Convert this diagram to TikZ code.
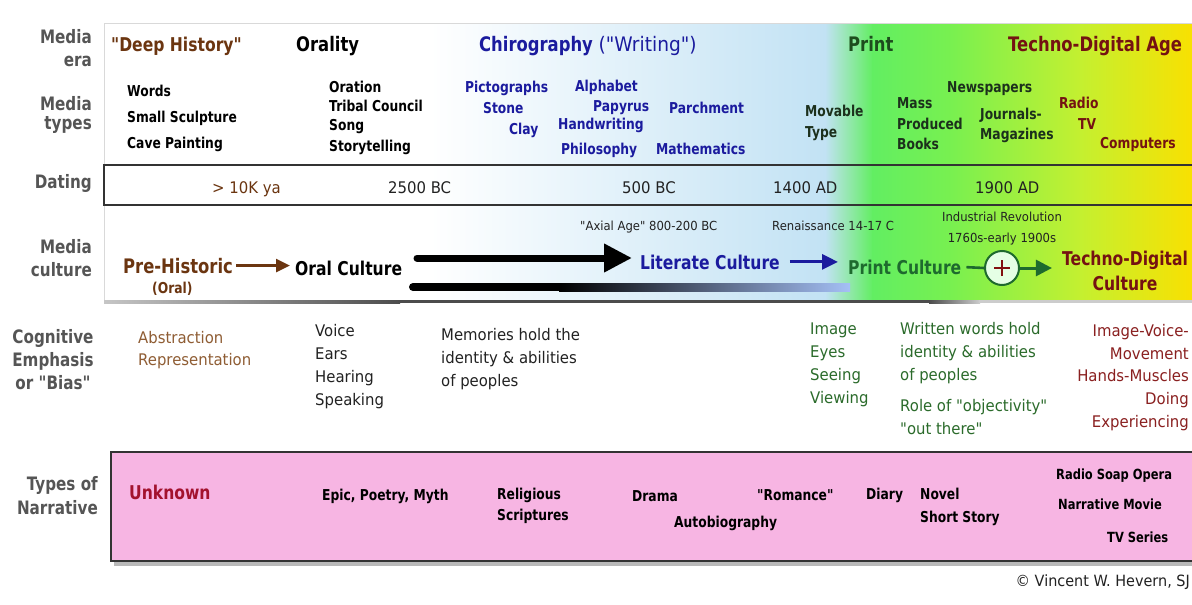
\documentclass[tikz,border=0pt]{standalone}
\usepackage{fontspec}
\setmainfont{DejaVu Sans}[FakeStretch=0.93, Ligatures=TeXOff]
\newfontfamily\cond{DejaVu Sans}[FakeStretch=0.82, Ligatures=TeXOff]
\usetikzlibrary{arrows.meta}

\newcommand\fsz[1]{\fontsize{#1}{#1}\selectfont}

\definecolor{labgray}{HTML}{555555}
\definecolor{brownD}{HTML}{6B3510}
\definecolor{brownL}{HTML}{8F5D34}
\definecolor{blueC}{HTML}{1B1B9E}
\definecolor{greenD}{HTML}{1D4D1D}
\definecolor{greenT}{HTML}{1C301C}
\definecolor{greenC}{HTML}{2B6B2B}
\definecolor{greenA}{HTML}{1E6A2E}
\definecolor{redD}{HTML}{741212}
\definecolor{redU}{HTML}{A3122E}
\definecolor{redC}{HTML}{8A2020}
\definecolor{txtdark}{HTML}{222222}
\definecolor{pinkC}{HTML}{F7B5E3}
\definecolor{lblue}{HTML}{C2E2F4}
\definecolor{pgreen}{HTML}{62EE62}
\definecolor{mgreen}{HTML}{78F050}
\definecolor{ygreen}{HTML}{C4F030}
\definecolor{pyellow}{HTML}{FAE000}
\definecolor{boxdark}{HTML}{333333}

\tikzset{
  lab/.style={font=\cond\bfseries\fsz{18.5}, text=labgray, anchor=base east, inner sep=0},
  era/.style={font=\cond\bfseries\fsz{20}, anchor=base west, inner sep=0},
  mtype/.style={font=\cond\bfseries\fsz{15}, anchor=base west, inner sep=0},
  datetxt/.style={font=\fsz{16}, text=txtdark, anchor=base west, inner sep=0},
  cult/.style={font=\cond\bfseries\fsz{19}, anchor=base west, inner sep=0},
  note/.style={font=\fsz{12.5}, text=txtdark, anchor=base west, inner sep=0},
  cog/.style={font=\fsz{16}, anchor=base west, inner sep=0},
  narr/.style={font=\cond\bfseries\fsz{15}, text=black, anchor=base west, inner sep=0},
}

\begin{document}
\begin{tikzpicture}[x=1pt,y=-1pt]
\useasboundingbox (0,0) rectangle (1192,605);
\clip (0,0) rectangle (1192,605);
\fill[white] (0,0) rectangle (1192,605);

% ---- timeline panel background: white -> blue -> green -> yellow
\fill[white] (104,23) rectangle (431,301);
\shade[left color=white, right color=lblue] (430,23) rectangle (826,301);
\shade[left color=lblue, right color=pgreen] (825,23) rectangle (873,301);
\shade[left color=pgreen, right color=mgreen] (872,23) rectangle (951,301);
\shade[left color=mgreen, right color=ygreen] (950,23) rectangle (1081,301);
\shade[left color=ygreen, right color=pyellow] (1080,23) rectangle (1196,301);
\draw[gray!30, line width=0.8] (1196,23) -- (104,23) -- (104,301);
% bottom edge shadow
\shade[left color=gray!45, right color=black!70] (104,300) rectangle (400,303);
\fill[black!70] (399,300) rectangle (930,303);
\shade[left color=black!70, right color=gray!40] (929,300) rectangle (980,303);
\fill[gray!40] (979,300) rectangle (1196,303);

% dating strip
\draw[line width=2.5, draw=boxdark] (1196,165) -- (104,165) -- (104,205) -- (1196,205);

% ---- row labels
\node[lab] (lea) at (92,43) {Media};
\node[lab] (leb) at (92,66) {era};
\node[lab] (lta) at (92,110) {Media};
\node[lab] (ltb) at (92,129) {types};
\node[lab] (ldt) at (92,188) {Dating};
\node[lab] (lca) at (92,253) {Media};
\node[lab] (lcb) at (92,276) {culture};
\node[lab, anchor=base] (lga) at (53,343) {Cognitive};
\node[lab, anchor=base] (lgb) at (53,366) {Emphasis};
\node[lab, anchor=base] (lgc) at (53,389) {or "Bias"};
\node[lab] (lna) at (98,490) {Types of};
\node[lab] (lnb) at (98,514) {Narrative};

% ---- media eras
\node[era, text=brownD, font=\cond\bfseries\fsz{19}] (deep) at (111,51) {"Deep History"};
\node[era, text=black] (orality) at (296,51) {Orality};
\node[era, text=blueC] (chiro) at (479,51) {Chirography {\rmfamily\mdseries ("Writing")}};
\node[era, text=greenD] (print) at (848,51) {Print};
\node[era, text=redD] (techno) at (1008,51) {Techno-Digital Age};

% ---- media types
\node[mtype] (words) at (127,96) {Words};
\node[mtype] (sculpt) at (127,122) {Small Sculpture};
\node[mtype] (cave) at (127,148) {Cave Painting};
\node[mtype] (oration) at (329,92) {Oration};
\node[mtype] (tribal) at (329,111) {Tribal Council};
\node[mtype] (song) at (329,130) {Song};
\node[mtype] (story) at (329,151) {Storytelling};
\node[mtype, text=blueC] (picto) at (465,92) {Pictographs};
\node[mtype, text=blueC] (stone) at (483,113) {Stone};
\node[mtype, text=blueC] (clay) at (509,134) {Clay};
\node[mtype, text=blueC] (alpha) at (575,91) {Alphabet};
\node[mtype, text=blueC] (papyrus) at (593,111) {Papyrus};
\node[mtype, text=blueC] (handw) at (558,129) {Handwriting};
\node[mtype, text=blueC] (parch) at (669,113) {Parchment};
\node[mtype, text=blueC] (philo) at (561,154) {Philosophy};
\node[mtype, text=blueC] (math) at (656,154) {Mathematics};
\node[mtype, text=greenT] (movA) at (805,116) {Movable};
\node[mtype, text=greenT] (movB) at (805,137) {Type};
\node[mtype, text=greenT] (massA) at (897,108) {Mass};
\node[mtype, text=greenT] (massB) at (897,129) {Produced};
\node[mtype, text=greenT] (massC) at (897,149) {Books};
\node[mtype, text=greenT] (news) at (947,92) {Newspapers};
\node[mtype, text=greenT] (jourA) at (980,119) {Journals-};
\node[mtype, text=greenT] (jourB) at (980,139) {Magazines};
\node[mtype, text=redD] (radio) at (1059,108) {Radio};
\node[mtype, text=redD] (tv) at (1078,129) {TV};
\node[mtype, text=redD] (comp) at (1100,148) {Computers};

% ---- dating
\node[datetxt, text=brownD] (d1) at (212,193) {> 10K ya};
\node[datetxt] (d2) at (388,193) {2500 BC};
\node[datetxt] (d3) at (622,193) {500 BC};
\node[datetxt] (d4) at (773,193) {1400 AD};
\node[datetxt] (d5) at (975,193) {1900 AD};

% ---- media culture
\node[note] (axial) at (580,230) {"Axial Age" 800-200 BC};
\node[note] (renais) at (772,230) {Renaissance 14-17 C};
\node[note, anchor=base] (indA) at (1002,221) {Industrial Revolution};
\node[note, anchor=base] (indB) at (1002,242) {1760s-early 1900s};

\node[cult, text=brownD, font=\cond\bfseries\fsz{20}] (pre) at (123,273) {Pre-Historic};
\node[cult, text=brownD, font=\cond\bfseries\fsz{15}] (preoral) at (152,293) {(Oral)};
\node[cult, text=black] (oral) at (295,275) {Oral Culture};
\node[cult, text=blueC] (lit) at (640,269) {Literate Culture};
\node[cult, text=greenA] (prt) at (848,274) {Print Culture};
\node[cult, text=redD, anchor=base] (tdA) at (1125,265) {Techno-Digital};
\node[cult, text=redD, anchor=base] (tdB) at (1125,290) {Culture};
\node[circle, draw=greenA, line width=2, fill=green!10!white, minimum size=34, inner sep=0] (plus) at (1002,268) {};
\draw[redD!90!red, line width=2.6] ([xshift=-8]plus.center) -- ([xshift=8]plus.center);
\draw[redD!90!red, line width=2.6] ([yshift=-8]plus.center) -- ([yshift=8]plus.center);

% lingering written tradition band
\fill[black] (413,283) rectangle (560,291);
\fill[black] (413,287) circle (4);
\shade[left color=black, right color=lblue!85!blue] (559,283) rectangle (850,291);

% culture arrows
\coordinate (thk) at (417,258);
\draw[brownD, line width=2.6, -{Triangle[length=14,width=13]}]
  ([xshift=3]pre.east) -- ([xshift=3]pre.east -| oral.west) [shorten >=8];
\draw[black, line width=7, line cap=round, -{Triangle[length=28,width=27]}, shorten >=8]
  (thk) -- (thk -| lit.west);
\draw[blueC, line width=3, -{Triangle[length=16,width=15]}, shorten <=10, shorten >=10]
  (lit.east) -- (lit.east -| prt.west);
\draw[greenA, line width=2.6, shorten <=5] (prt.east) -- (plus.west);
\draw[greenA, line width=3, -{Triangle[length=16,width=16]}, shorten >=10]
  (plus.east) -- (plus.east -| tdA.west);

% ---- cognitive emphasis
\node[cog, text=brownL] (abs) at (138,343) {Abstraction};
\node[cog, text=brownL] (rep) at (138,365) {Representation};
\node[cog, text=txtdark] (voice) at (315,336) {Voice};
\node[cog, text=txtdark] (ears) at (315,359) {Ears};
\node[cog, text=txtdark] (hear) at (315,382) {Hearing};
\node[cog, text=txtdark] (speak) at (315,405) {Speaking};
\node[cog, text=txtdark] (memA) at (441,340) {Memories hold the};
\node[cog, text=txtdark] (memB) at (441,363) {identity \& abilities};
\node[cog, text=txtdark] (memC) at (441,386) {of peoples};
\node[cog, text=greenC] (img) at (810,334) {Image};
\node[cog, text=greenC] (eyes) at (810,357) {Eyes};
\node[cog, text=greenC] (seeing) at (810,380) {Seeing};
\node[cog, text=greenC] (view) at (810,403) {Viewing};
\node[cog, text=greenC] (wrA) at (900,334) {Written words hold};
\node[cog, text=greenC] (wrB) at (900,357) {identity \& abilities};
\node[cog, text=greenC] (wrC) at (900,380) {of peoples};
\node[cog, text=greenC] (objA) at (900,411) {Role of "objectivity"};
\node[cog, text=greenC] (objB) at (900,434) {"out there"};
\node[cog, text=redC, anchor=base east] (ivA) at (1189,336) {Image-Voice-};
\node[cog, text=redC, anchor=base east] (ivB) at (1189,359) {Movement};
\node[cog, text=redC, anchor=base east] (ivC) at (1189,381) {Hands-Muscles};
\node[cog, text=redC, anchor=base east] (ivD) at (1189,404) {Doing};
\node[cog, text=redC, anchor=base east] (ivE) at (1189,427) {Experiencing};

% ---- types of narrative
\fill[gray!55] (114,456) rectangle (1199,566);
\draw[fill=pinkC, draw=boxdark, line width=2.8] (111,452) rectangle (1199,561);
\node[narr, text=redU, font=\cond\bfseries\fsz{19}] (unk) at (129,499) {Unknown};
\node[narr] (epic) at (322,500) {Epic, Poetry, Myth};
\node[narr] (relA) at (497,499) {Religious};
\node[narr] (relB) at (497,520) {Scriptures};
\node[narr] (drama) at (632,501) {Drama};
\node[narr] (auto) at (674,527) {Autobiography};
\node[narr] (roman) at (757,500) {"Romance"};
\node[narr] (diary) at (866,499) {Diary};
\node[narr] (novel) at (920,499) {Novel};
\node[narr] (short) at (920,522) {Short Story};
\node[narr, font=\cond\bfseries\fsz{14}] (soap) at (1056,479) {Radio Soap Opera};
\node[narr, font=\cond\bfseries\fsz{14}] (movie) at (1058,509) {Narrative Movie};
\node[narr, font=\cond\bfseries\fsz{14}] (tvs) at (1107,542) {TV Series};

\node[font=\fsz{15.5}, text=txtdark, anchor=base east, inner sep=0] (copy) at (1190,586) {© Vincent W. Hevern, SJ};
\end{tikzpicture}
\end{document}
